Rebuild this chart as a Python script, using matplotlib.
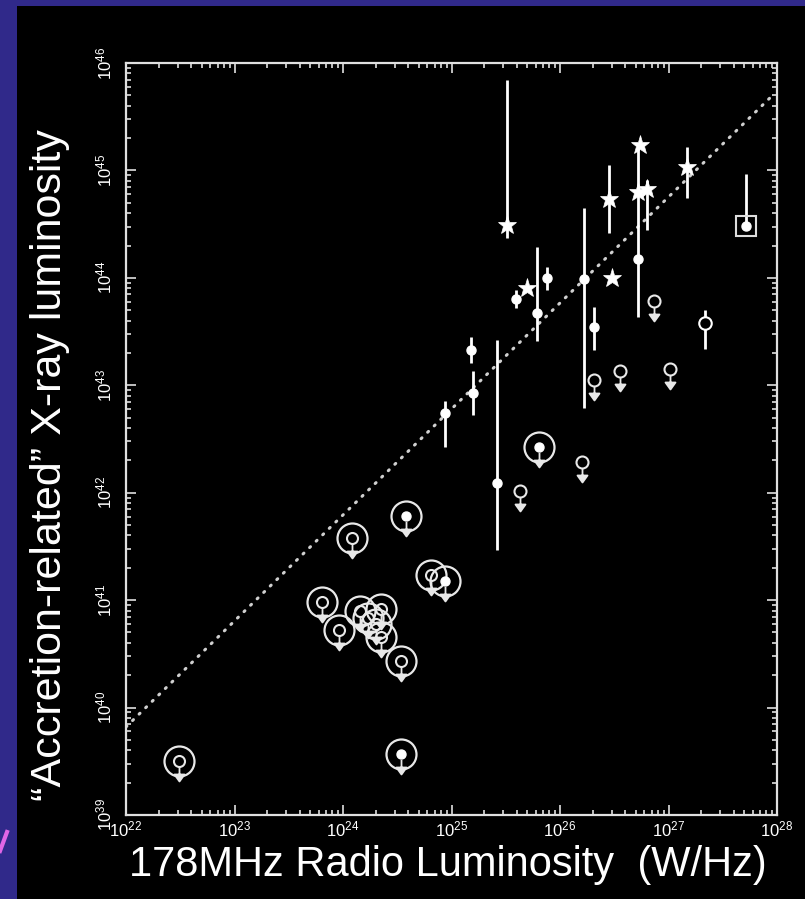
import numpy as np
import matplotlib
matplotlib.use("Agg")
import matplotlib.pyplot as plt
from matplotlib.path import Path
from matplotlib.lines import Line2D
from matplotlib.patches import Rectangle

# all values are log10
# stars (with error bars where drawn)
star_lr = [25.51, 25.70, 26.45, 26.48, 26.74, 26.72, 26.80, 27.17]
star_lx = [44.49, 43.91, 44.73, 44.00, 45.24, 44.80, 44.83, 45.03]
star_lo = [44.37, 43.91, 44.42, 44.00, 45.24, 44.80, 44.45, 44.74]
star_hi = [45.84, 43.91, 45.05, 44.00, 45.24, 44.80, 44.91, 45.22]

# filled dots with error bars
dot_lr = [25.59, 25.88, 25.79, 25.18, 25.20, 24.94, 25.42, 26.22, 26.31, 26.72]
dot_lx = [43.80, 44.00, 43.67, 43.33, 42.93, 42.74, 42.09, 43.99, 43.54, 44.18]
dot_lo = [43.72, 43.89, 43.41, 43.21, 42.72, 42.43, 41.47, 42.79, 43.33, 43.64]
dot_hi = [43.89, 44.10, 44.29, 43.45, 43.13, 42.85, 43.42, 44.65, 43.73, 45.24]

# open circle with error bar
ring_lr = [27.34]
ring_lx = [43.58]
ring_lo = [43.34]
ring_hi = [43.70]

# boxed source
box_lr = [27.71]
box_lx = [44.48]
box_lo = [44.48]
box_hi = [44.97]

# upper limits
ul_lr = [26.31, 26.55, 26.87, 27.01, 26.20, 25.63]
ul_lx = [43.05, 43.13, 43.78, 43.15, 42.29, 42.02]

# circled upper limits, filled centre
cf_lr = [25.81, 24.58, 24.94, 24.53]
cf_lx = [42.43, 41.78, 41.18, 39.57]

# circled upper limits, open centre
co_lr = [24.08, 24.81, 23.81, 23.96, 24.16, 24.35, 24.23, 24.30, 24.35, 24.53, 22.49]
co_lx = [41.58, 41.23, 40.98, 40.72, 40.90, 40.92, 40.83, 40.78, 40.66, 40.43, 39.50]

# dotted relation
fit_lr = [22.0, 27.95]
fit_lx = [39.82, 45.69]

W = 'white'
PX = 0.72  # points per pixel at dpi 100

plt.rcParams['mathtext.fontset'] = 'custom'
plt.rcParams['mathtext.rm'] = 'Liberation Sans'
plt.rcParams['font.family'] = 'Liberation Sans'


def p10(v):
    return 10.0 ** np.asarray(v)


# arrow pointing down from a circle (units are pixels)
def arrow_marker(r0, tip=20.0, hh=7.0, hw=5.0):
    verts = [(0, -r0), (0, -tip + 1),
             (-hw, -tip + hh), (hw, -tip + hh), (0, -tip), (-hw, -tip + hh)]
    codes = [Path.MOVETO, Path.LINETO,
             Path.MOVETO, Path.LINETO, Path.LINETO, Path.CLOSEPOLY]
    return Path(verts, codes), 2 * tip * PX


fig = plt.figure(figsize=(8.05, 8.99), dpi=100, facecolor='#30298a')
fig.add_artist(Rectangle((17 / 805, 0), 1, 1 - 6 / 899, transform=fig.transFigure,
                         facecolor='black', edgecolor='none', zorder=0))
fig.add_artist(Line2D([0 / 805, 7 / 805], [1 - 851 / 899, 1 - 832 / 899],
                      transform=fig.transFigure, color='#e066e6', lw=3))

ax = fig.add_axes([126 / 805, 1 - 815 / 899, 651 / 805, 752 / 899])
ax.set_facecolor('black')
ax.set_xscale('log')
ax.set_yscale('log')
ax.set_xlim(1e22, 1e28)
ax.set_ylim(1e39, 1e46)

# dotted line
ax.plot(p10(fit_lr), p10(fit_lx), color='#d0d0d0', lw=2.2,
        dashes=(0.4, 2.6), dash_capstyle='round', zorder=1)

# error bars
def vbars(lr, lo, hi):
    ax.vlines(p10(lr), p10(lo), p10(hi), color=W, lw=2.0, zorder=2)

vbars(star_lr, star_lo, star_hi)
vbars(dot_lr, dot_lo, dot_hi)
vbars(ring_lr, ring_lo, ring_hi)
vbars(box_lr, box_lo, box_hi)

ax.plot(p10(star_lr), p10(star_lx), ls='none', marker='*', ms=14,
        mfc=W, mec=W, mew=0.5, zorder=3)
ax.plot(p10(dot_lr), p10(dot_lx), ls='none', marker='o', ms=6.5,
        mfc=W, mec=W, zorder=3)
ax.plot(p10(ring_lr), p10(ring_lx), ls='none', marker='o', ms=9,
        mfc='black', mec=W, mew=1.5, zorder=3)
ax.plot(p10(box_lr), p10(box_lx), ls='none', marker='s', ms=14,
        mfc='none', mec='#dddddd', mew=1.5, zorder=3)
ax.plot(p10(box_lr), p10(box_lx), ls='none', marker='o', ms=6.5,
        mfc=W, mec=W, zorder=3)

# upper limits
arr_small, ms_small = arrow_marker(6)
ax.plot(p10(ul_lr), p10(ul_lx), ls='none', marker='o', ms=12 * PX,
        mfc='none', mec='#e8e8e8', mew=1.5, zorder=3)
ax.plot(p10(ul_lr), p10(ul_lx), ls='none', marker=arr_small, ms=ms_small,
        mfc='#e8e8e8', mec='#e8e8e8', mew=1.3, zorder=3)

# circled upper limits
arr_in, ms_in = arrow_marker(5.5)
for lr, lx, filled in [(co_lr, co_lx, False), (cf_lr, cf_lx, True)]:
    ax.plot(p10(lr), p10(lx), ls='none', marker='o', ms=30 * PX,
            mfc='none', mec='#e8e8e8', mew=1.6, zorder=3)
    if filled:
        ax.plot(p10(lr), p10(lx), ls='none', marker='o', ms=9 * PX,
                mfc=W, mec=W, zorder=3)
    else:
        ax.plot(p10(lr), p10(lx), ls='none', marker='o', ms=11 * PX,
                mfc='none', mec='#e8e8e8', mew=1.5, zorder=3)
    ax.plot(p10(lr), p10(lx), ls='none', marker=arr_in, ms=ms_in,
            mfc='#e8e8e8', mec='#e8e8e8', mew=1.3, zorder=3)

# frame and ticks
for s in ax.spines.values():
    s.set_color('#e0e0e0')
    s.set_linewidth(1.6)
ax.tick_params(which='both', direction='in', colors='#e0e0e0',
               top=True, right=True, width=1.2)
ax.tick_params(which='major', length=7)
ax.tick_params(which='minor', length=3.5)
ax.tick_params(axis='x', labelsize=12, pad=3, labelcolor=W)
ax.tick_params(axis='y', labelsize=12, pad=8, labelcolor=W, labelrotation=90)
for t in ax.get_yticklabels():
    t.set_verticalalignment('center')

fig.text(448 / 805, 1 - 865 / 899, '178MHz Radio Luminosity  (W/Hz)',
         color=W, fontsize=30, ha='center', va='center')
fig.text(50 / 805, 1 - 465 / 899, '\u201cAccretion-related\u201d X-ray luminosity',
         color=W, fontsize=31, rotation=90, ha='center', va='center')

fig.savefig('out.png', dpi=100, facecolor=fig.get_facecolor())
